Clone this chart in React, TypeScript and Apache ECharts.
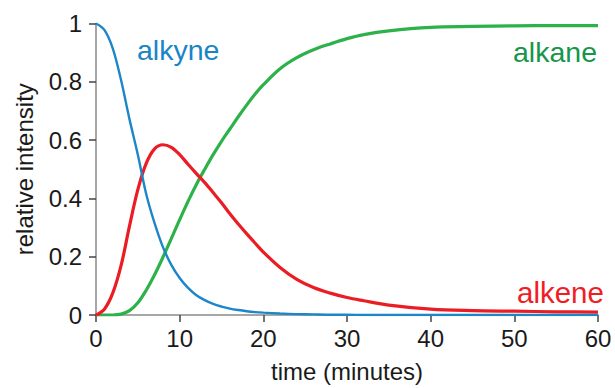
import React, { useEffect, useRef } from "react";
import * as echarts from "echarts";

// time (minutes) and relative intensity
const timeAxis = [0, 1, 2, 3, 4, 5, 6, 7, 8, 9, 10, 11, 12, 13, 14, 15, 16, 17, 18, 19, 20, 22, 24, 26, 28, 30, 32, 35, 40, 45, 50, 55, 60];
const alkyne = [1.0, 0.978, 0.915, 0.805, 0.672, 0.55, 0.415, 0.315, 0.233, 0.172, 0.127, 0.093, 0.068, 0.051, 0.038, 0.029, 0.022, 0.017, 0.013, 0.01, 0.008, 0.005, 0.003, 0.002, 0.001, 0.001, 0.0, 0.0, 0.0, 0.0, 0.0, 0.0, 0.0];
const alkene = [0, 0.02, 0.075, 0.17, 0.305, 0.43, 0.52, 0.57, 0.584, 0.575, 0.55, 0.517, 0.485, 0.454, 0.42, 0.385, 0.347, 0.312, 0.279, 0.247, 0.216, 0.163, 0.122, 0.094, 0.075, 0.06, 0.049, 0.034, 0.02, 0.015, 0.013, 0.011, 0.01];
const alkane = [0, 0, 0, 0.003, 0.015, 0.042, 0.085, 0.138, 0.198, 0.262, 0.327, 0.39, 0.448, 0.5, 0.55, 0.596, 0.638, 0.68, 0.72, 0.757, 0.79, 0.845, 0.883, 0.91, 0.93, 0.948, 0.962, 0.975, 0.987, 0.99, 0.992, 0.993, 0.993];

const xTicks = [0, 10, 20, 30, 40, 50, 60];
const yTicks = [0, 0.2, 0.4, 0.6, 0.8, 1];
const seriesNames = ["alkyne", "alkene", "alkane"];

const FONT = "'Liberation Sans', Arial, Helvetica, sans-serif";

function pairs(t: number[], v: number[]) {
  return t.map((x, i) => [x, v[i]]);
}

export default function App() {
  const ref = useRef<HTMLDivElement>(null);
  useEffect(() => {
    const chart = echarts.init(ref.current!, null, { renderer: "svg" });
    chart.setOption({
      animation: false,
      backgroundColor: "#ffffff",
      grid: { left: 96, right: 17, top: 23.5, bottom: 68.5 },
      xAxis: {
        type: "value",
        min: xTicks[0],
        max: xTicks[xTicks.length - 1],
        interval: 10,
        name: "time (minutes)",
        nameLocation: "middle",
        nameGap: 44,
        nameTextStyle: { fontFamily: FONT, fontSize: 24, color: "#1a1a1a" },
        axisLine: { lineStyle: { color: "#8a8a8a", width: 1.5 } },
        axisTick: { length: 7, lineStyle: { color: "#444", width: 1.5 } },
        axisLabel: { fontFamily: FONT, fontSize: 24, color: "#1a1a1a", margin: 11 },
        splitLine: { show: false },
      },
      yAxis: {
        type: "value",
        min: yTicks[0],
        max: yTicks[yTicks.length - 1],
        interval: 0.2,
        name: "relative intensity",
        nameLocation: "middle",
        nameGap: 60,
        nameTextStyle: { fontFamily: FONT, fontSize: 24, color: "#1a1a1a" },
        axisLine: { show: true, lineStyle: { color: "#8a8a8a", width: 1.5 } },
        axisTick: { show: true, length: 7, lineStyle: { color: "#444", width: 1.5 } },
        axisLabel: {
          fontFamily: FONT,
          fontSize: 24,
          color: "#1a1a1a",
          margin: 14,
          formatter: (v: number) => String(+v.toFixed(1)),
        },
        splitLine: { show: false },
      },
      series: [
        {
          name: seriesNames[2],
          type: "line",
          data: pairs(timeAxis, alkane),
          smooth: 0.35,
          showSymbol: false,
          lineStyle: { color: "#2db24a", width: 3.2 },
          z: 2,
        },
        {
          name: seriesNames[1],
          type: "line",
          data: pairs(timeAxis, alkene),
          smooth: 0.35,
          showSymbol: false,
          lineStyle: { color: "#ec1c24", width: 3.2 },
          z: 3,
        },
        {
          name: seriesNames[0],
          type: "line",
          data: pairs(timeAxis, alkyne),
          smooth: 0.35,
          showSymbol: false,
          lineStyle: { color: "#1b87c8", width: 2.4 },
          z: 4,
        },
      ],
      graphic: [
        {
          type: "text",
          x: 137,
          y: 50,
          style: { text: seriesNames[0], font: `28.5px ${FONT}`, fill: "#1a84c6", verticalAlign: "middle" },
        },
        {
          type: "text",
          x: 513,
          y: 52,
          style: { text: seriesNames[2], font: `28.5px ${FONT}`, fill: "#17954a", verticalAlign: "middle" },
        },
        {
          type: "text",
          x: 517,
          y: 292,
          style: { text: seriesNames[1], font: `29.5px ${FONT}`, fill: "#ee1d26", verticalAlign: "middle" },
        },
      ],
    });
    return () => chart.dispose();
  }, []);
  return <div ref={ref} style={{ width: 615, height: 388, position: "absolute", left: 0, top: 0 }} />;
}
